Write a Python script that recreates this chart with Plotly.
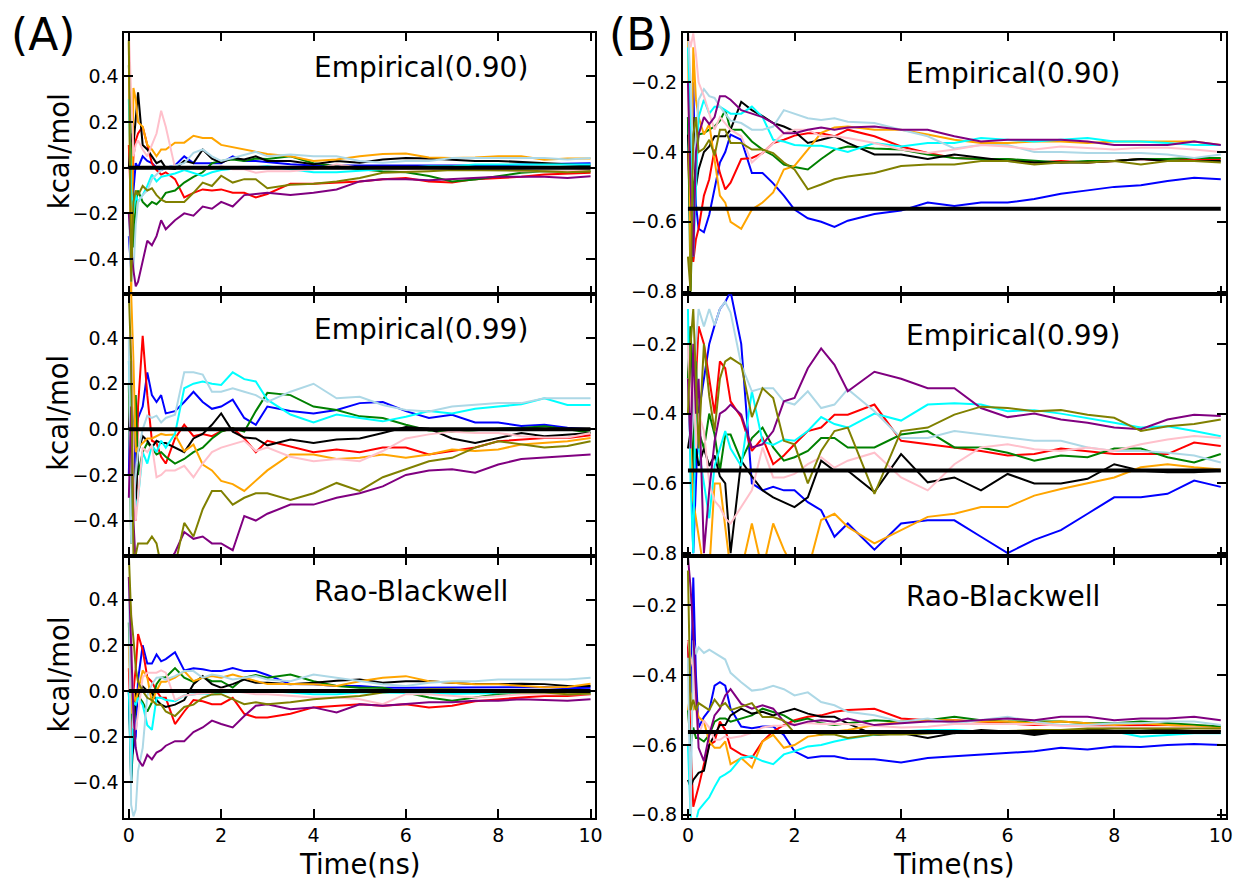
import plotly.graph_objects as go
from plotly.subplots import make_subplots

# Simulation time grid shared by every trace (ns)
TIME_NS = [0.0, 0.05, 0.1, 0.15, 0.2, 0.3, 0.4, 0.5, 0.6, 0.7, 0.8, 1.0, 1.2, 1.4, 1.6, 1.8,
           2.0, 2.25, 2.5, 2.75, 3.0, 3.5, 4.0, 4.5, 5.0, 5.5, 6.0, 6.5, 7.0, 7.5, 8.0, 8.5,
           9.0, 9.5, 10.0]

SERIES_COLORS = ["blue", "red", "green", "black", "orange", "cyan",
                 "lightblue", "pink", "purple", "olive"]

# ---- System A: running free-energy estimates (kcal/mol) ----
A_EMP90 = {
    "blue": [-0.3, -0.45, -0.1, 0.02, 0.0, 0.05, 0.03, 0.02, 0.0, -0.01, 0.0, 0.01, 0.05, 0.02, 0.02, 0.02, 0.02, 0.05, 0.03, 0.03, 0.025, 0.015, 0.01, 0.01, 0.01, 0.007, 0.01, 0.01, 0.01, 0.01, 0.01, 0.014, 0.015, 0.018, 0.02],
    "red": [0.1, -0.2, 0.05, 0.12, 0.15, 0.18, 0.1, 0.02, -0.01, -0.03, -0.02, -0.05, -0.13, -0.11, -0.095, -0.1, -0.095, -0.11, -0.11, -0.13, -0.115, -0.07, -0.07, -0.065, -0.06, -0.05, -0.045, -0.06, -0.065, -0.05, -0.045, -0.04, -0.03, -0.025, -0.022],
    "green": [0.45, 0.2, -0.35, -0.15, -0.1, -0.15, -0.17, -0.15, -0.16, -0.14, -0.11, -0.1, -0.065, -0.04, -0.02, 0.02, 0.03, 0.036, 0.03, 0.04, 0.038, 0.05, 0.02, 0.007, -0.007, -0.015, -0.02, -0.036, -0.06, -0.052, -0.036, -0.022, -0.015, -0.018, -0.015],
    "black": [0.0, 0.15, 0.1, 0.2, 0.33, 0.1, 0.08, 0.05, 0.02, 0.03, 0.0, -0.005, 0.03, 0.02, 0.08, 0.04, 0.022, 0.043, 0.036, 0.05, 0.03, 0.03, 0.015, 0.03, 0.022, 0.036, 0.043, 0.04, 0.036, 0.03, 0.03, 0.025, 0.022, 0.015, 0.01],
    "orange": [0.55, -0.6, 0.35, 0.3, 0.2, 0.18, 0.1, 0.08, 0.05, 0.08, 0.08, 0.11, 0.11, 0.14, 0.13, 0.13, 0.1, 0.09, 0.08, 0.07, 0.06, 0.05, 0.03, 0.036, 0.05, 0.06, 0.062, 0.045, 0.043, 0.045, 0.05, 0.05, 0.035, 0.04, 0.04],
    "cyan": [0.3, -0.1, -0.2, -0.12, -0.15, -0.12, -0.08, -0.03, -0.06, -0.04, -0.035, -0.025, -0.01, -0.022, -0.036, -0.02, -0.01, -0.005, 0.0, 0.005, 0.007, -0.007, -0.02, -0.02, -0.014, -0.007, 0.0, 0.007, 0.007, 0.014, 0.014, 0.014, 0.014, 0.014, 0.014],
    "lightblue": [-0.2, -0.5, -0.45, -0.25, -0.15, -0.12, -0.1, -0.05, -0.03, -0.01, 0.0, 0.01, 0.02, 0.065, 0.08, 0.05, 0.03, 0.043, 0.058, 0.07, 0.05, 0.058, 0.05, 0.05, 0.03, 0.022, 0.03, 0.03, 0.043, 0.043, 0.043, 0.043, 0.043, 0.036, 0.043],
    "pink": [0.6, 0.3, 0.05, 0.1, 0.12, 0.08, 0.05, 0.1, 0.15, 0.25, 0.18, 0.0, -0.007, 0.0, -0.007, -0.005, 0.007, -0.007, -0.007, -0.022, -0.015, -0.015, -0.007, 0.015, 0.0, -0.007, -0.007, -0.007, -0.007, 0.0, -0.007, -0.015, -0.015, -0.015, -0.007],
    "purple": [-0.2, -0.35, -0.45, -0.52, -0.5, -0.41, -0.32, -0.34, -0.3, -0.23, -0.27, -0.23, -0.2, -0.21, -0.17, -0.18, -0.15, -0.17, -0.12, -0.115, -0.11, -0.12, -0.11, -0.095, -0.06, -0.05, -0.05, -0.055, -0.05, -0.045, -0.04, -0.04, -0.04, -0.045, -0.037],
    "olive": [0.56, -0.5, -0.15, -0.1, -0.12, -0.08, -0.1, -0.09, -0.12, -0.14, -0.15, -0.15, -0.15, -0.11, -0.065, -0.08, -0.035, -0.065, -0.05, -0.05, -0.09, -0.075, -0.07, -0.06, -0.045, -0.022, -0.02, -0.015, -0.01, -0.01, -0.01, -0.012, -0.015, -0.02, -0.015],
}

A_EMP99 = {
    "blue": [-0.2, 0.3, -0.3, 0.0, 0.05, 0.1, 0.25, 0.15, 0.12, 0.15, 0.07, 0.08, 0.12, 0.165, 0.12, 0.09, 0.1, 0.13, 0.05, 0.02, 0.1, 0.08, 0.07, 0.085, 0.115, 0.12, 0.08, 0.05, 0.064, 0.03, 0.03, 0.015, 0.02, 0.007, 0.0],
    "red": [0.0, 0.1, -0.2, -0.4, 0.1, 0.41, 0.15, -0.05, -0.06, -0.12, -0.15, -0.04, 0.02, -0.03, -0.02, -0.03, -0.008, 0.005, -0.04, -0.1, -0.05, -0.075, -0.1, -0.088, -0.1, -0.08, -0.08, -0.11, -0.095, -0.08, -0.052, -0.045, -0.038, -0.038, -0.026],
    "green": [0.2, -0.5, 0.0, 0.15, -0.2, -0.1, -0.06, -0.08, -0.11, -0.1, -0.12, -0.15, -0.13, -0.1, -0.08, -0.04, -0.01, 0.005, -0.01, 0.08, 0.16, 0.15, 0.1, 0.085, 0.057, 0.05, 0.02, -0.005, -0.01, -0.002, 0.003, 0.006, 0.013, 0.0, -0.015],
    "black": [0.0, 0.2, -0.15, -0.33, -0.1, -0.03, -0.05, -0.08, -0.05, -0.06, -0.06, -0.08, -0.1, -0.04, -0.02, 0.02, 0.07, -0.01, -0.036, -0.04, -0.07, -0.045, -0.06, -0.045, -0.04, -0.016, 0.01, 0.003, -0.04, -0.06, -0.038, -0.016, -0.03, -0.022, -0.016],
    "orange": [0.6, 0.6, 0.3, -0.1, -0.08, -0.06, -0.04, -0.04, -0.03, -0.02, -0.025, -0.023, -0.096, -0.067, -0.154, -0.18, -0.226, -0.24, -0.27, -0.225, -0.18, -0.11, -0.11, -0.13, -0.125, -0.11, -0.125, -0.11, -0.088, -0.095, -0.088, -0.066, -0.06, -0.052, -0.038],
    "cyan": [0.3, 0.0, -0.2, -0.35, -0.3, -0.1, -0.15, -0.07, -0.1, -0.05, -0.08, -0.02, 0.18, 0.2, 0.21, 0.2, 0.195, 0.25, 0.22, 0.21, 0.13, 0.065, 0.03, 0.065, 0.05, 0.035, 0.055, 0.08, 0.07, 0.09, 0.1, 0.11, 0.136, 0.107, 0.107],
    "lightblue": [0.4, -0.5, -0.35, -0.2, -0.1, 0.0, 0.06, 0.05, 0.06, 0.03, 0.05, 0.064, 0.25, 0.25, 0.24, 0.165, 0.165, 0.18, 0.165, 0.15, 0.12, 0.165, 0.2, 0.136, 0.143, 0.107, 0.085, 0.078, 0.1, 0.107, 0.115, 0.115, 0.136, 0.136, 0.136],
    "pink": [0.41, 0.41, -0.2, -0.4, -0.3, -0.08, -0.1, -0.07, -0.21, -0.2, -0.18, -0.18, -0.16, -0.21, -0.15, -0.1, -0.08, -0.065, -0.05, -0.095, -0.08, -0.12, -0.14, -0.13, -0.14, -0.095, -0.04, -0.022, -0.01, -0.016, -0.016, -0.03, -0.036, -0.036, -0.016],
    "purple": [-0.3, 0.1, -0.4, -0.6, -0.6, -0.6, -0.6, -0.6, -0.6, -0.6, -0.6, -0.54, -0.45, -0.48, -0.47, -0.5, -0.5, -0.53, -0.38, -0.4, -0.37, -0.33, -0.33, -0.3, -0.28, -0.25, -0.2, -0.18, -0.175, -0.19, -0.154, -0.13, -0.125, -0.117, -0.11],
    "olive": [0.6, 0.3, -0.55, -0.55, -0.5, -0.5, -0.5, -0.47, -0.5, -0.6, -0.6, -0.6, -0.41, -0.47, -0.35, -0.27, -0.27, -0.33, -0.3, -0.28, -0.28, -0.31, -0.28, -0.235, -0.27, -0.21, -0.175, -0.14, -0.125, -0.08, -0.052, -0.067, -0.08, -0.073, -0.052],
}

A_RB = {
    "blue": [0.0, -0.3, -0.25, -0.2, 0.05, 0.2, 0.12, 0.12, 0.16, 0.13, 0.14, 0.17, 0.09, 0.1, 0.095, 0.087, 0.087, 0.1, 0.087, 0.087, 0.07, 0.03, 0.029, 0.022, 0.022, 0.014, 0.014, 0.014, 0.014, 0.014, 0.014, 0.014, 0.017, 0.012, 0.014],
    "red": [0.1, -0.2, 0.0, 0.1, 0.25, 0.18, 0.06, 0.04, 0.0, -0.03, -0.03, -0.145, -0.09, -0.04, -0.045, -0.058, -0.058, -0.03, -0.1, -0.116, -0.116, -0.1, -0.072, -0.065, -0.058, -0.065, -0.058, -0.072, -0.065, -0.045, -0.036, -0.029, -0.022, -0.022, -0.014],
    "green": [0.3, -0.1, -0.15, -0.05, -0.02, -0.05, -0.09, -0.05, 0.03, 0.058, 0.06, 0.1, 0.058, 0.04, 0.06, 0.043, 0.043, 0.015, 0.058, 0.07, 0.058, 0.072, 0.043, 0.022, 0.014, 0.014, -0.007, -0.029, -0.043, -0.029, -0.014, -0.012, -0.014, -0.014, -0.012],
    "black": [0.0, -0.4, -0.2, 0.0, -0.02, 0.02, 0.0, -0.01, -0.04, -0.06, -0.07, -0.06, -0.04, 0.03, 0.065, 0.03, 0.014, 0.03, 0.05, 0.036, 0.036, 0.03, 0.036, 0.045, 0.05, 0.036, 0.043, 0.043, 0.036, 0.03, 0.03, 0.032, 0.03, 0.022, 0.022],
    "orange": [0.2, -0.1, 0.0, -0.05, 0.0, 0.09, 0.06, -0.05, 0.0, 0.04, 0.04, 0.058, 0.087, 0.043, 0.058, 0.065, 0.058, 0.072, 0.058, 0.043, 0.03, 0.03, 0.029, 0.022, 0.043, 0.058, 0.065, 0.043, 0.036, 0.029, 0.029, 0.022, 0.016, 0.017, 0.032],
    "cyan": [0.0, -0.4, -0.05, -0.06, -0.03, -0.06, -0.15, -0.17, -0.03, -0.03, -0.04, -0.045, -0.02, -0.015, -0.01, -0.015, -0.007, -0.005, 0.0, 0.0, 0.0, -0.007, -0.014, -0.014, -0.007, -0.007, -0.01, -0.01, -0.012, -0.01, -0.008, -0.008, -0.007, -0.007, -0.007],
    "lightblue": [0.5, -0.5, -0.55, -0.52, -0.35, -0.25, -0.02, 0.03, 0.058, 0.06, 0.05, 0.065, 0.087, 0.087, 0.058, 0.072, 0.065, 0.05, 0.058, 0.065, 0.05, 0.043, 0.072, 0.058, 0.043, 0.029, 0.022, 0.036, 0.043, 0.043, 0.05, 0.05, 0.05, 0.05, 0.058],
    "pink": [0.4, 0.37, -0.16, -0.17, -0.1, 0.06, 0.08, 0.08, 0.08, 0.09, 0.08, -0.04, -0.02, -0.015, -0.01, -0.01, 0.007, 0.0, -0.007, -0.014, -0.014, -0.022, -0.029, -0.029, -0.036, -0.058, -0.014, -0.014, -0.022, -0.029, -0.022, -0.014, -0.014, -0.014, -0.014],
    "purple": [0.5, 0.2, -0.1, -0.25, -0.3, -0.33, -0.28, -0.3, -0.27, -0.26, -0.24, -0.22, -0.22, -0.18, -0.16, -0.13, -0.145, -0.16, -0.11, -0.065, -0.058, -0.08, -0.072, -0.094, -0.058, -0.065, -0.058, -0.05, -0.05, -0.043, -0.043, -0.036, -0.04, -0.043, -0.036],
    "olive": [0.6, 0.33, 0.23, 0.1, 0.04, 0.0, -0.03, -0.04, -0.06, -0.06, -0.09, -0.11, -0.07, -0.06, -0.03, -0.015, -0.014, -0.036, -0.058, -0.05, -0.058, -0.05, -0.036, -0.029, -0.022, -0.007, 0.0, 0.007, 0.007, 0.0, -0.007, -0.007, -0.007, -0.014, -0.012],
}

# ---- System B: running free-energy estimates (kcal/mol) ----
B_EMP90 = {
    "blue": [-0.3, -0.7, -0.2, -0.55, -0.62, -0.63, -0.58, -0.5, -0.43, -0.4, -0.35, -0.365, -0.46, -0.46, -0.49, -0.525, -0.565, -0.59, -0.6, -0.615, -0.597, -0.578, -0.568, -0.545, -0.555, -0.545, -0.545, -0.535, -0.52, -0.51, -0.5, -0.495, -0.483, -0.474, -0.478],
    "red": [-0.4, -0.6, -0.715, -0.65, -0.62, -0.525, -0.478, -0.393, -0.46, -0.507, -0.488, -0.42, -0.417, -0.403, -0.374, -0.365, -0.353, -0.346, -0.346, -0.355, -0.336, -0.355, -0.384, -0.403, -0.417, -0.42, -0.42, -0.43, -0.426, -0.43, -0.426, -0.42, -0.426, -0.42, -0.42],
    "green": [-0.3, -0.8, -0.5, -0.45, -0.35, -0.346, -0.336, -0.327, -0.31, -0.28, -0.336, -0.336, -0.37, -0.393, -0.41, -0.436, -0.443, -0.45, -0.42, -0.393, -0.384, -0.39, -0.393, -0.407, -0.417, -0.42, -0.42, -0.426, -0.43, -0.426, -0.426, -0.42, -0.42, -0.417, -0.417],
    "black": [-0.35, -0.45, -0.3, -0.5, -0.45, -0.4, -0.384, -0.355, -0.355, -0.355, -0.336, -0.256, -0.28, -0.297, -0.317, -0.327, -0.341, -0.374, -0.365, -0.355, -0.374, -0.407, -0.407, -0.42, -0.407, -0.417, -0.426, -0.43, -0.43, -0.43, -0.426, -0.42, -0.426, -0.426, -0.426],
    "orange": [-0.05, -0.75, -0.1, -0.25, -0.3, -0.35, -0.32, -0.43, -0.525, -0.545, -0.6, -0.62, -0.565, -0.545, -0.516, -0.45, -0.44, -0.393, -0.345, -0.33, -0.327, -0.336, -0.336, -0.35, -0.365, -0.374, -0.374, -0.37, -0.37, -0.374, -0.37, -0.37, -0.37, -0.37, -0.38],
    "cyan": [-0.1, -0.3, -0.7, -0.5, -0.3, -0.25, -0.29, -0.27, -0.27, -0.28, -0.29, -0.29, -0.27, -0.3, -0.365, -0.37, -0.38, -0.382, -0.382, -0.39, -0.4, -0.374, -0.384, -0.374, -0.374, -0.36, -0.365, -0.37, -0.365, -0.36, -0.37, -0.37, -0.374, -0.38, -0.38],
    "lightblue": [-0.05, -0.2, -0.45, -0.35, -0.25, -0.22, -0.24, -0.245, -0.27, -0.29, -0.31, -0.317, -0.336, -0.336, -0.327, -0.28, -0.29, -0.303, -0.308, -0.303, -0.313, -0.317, -0.336, -0.355, -0.39, -0.38, -0.38, -0.4, -0.4, -0.403, -0.403, -0.403, -0.407, -0.417, -0.407],
    "pink": [-0.06, -0.1, -0.06, -0.12, -0.2, -0.24, -0.29, -0.336, -0.3, -0.317, -0.336, -0.355, -0.43, -0.403, -0.374, -0.346, -0.336, -0.336, -0.355, -0.355, -0.36, -0.374, -0.393, -0.403, -0.393, -0.38, -0.384, -0.393, -0.384, -0.388, -0.393, -0.388, -0.388, -0.393, -0.4],
    "purple": [-0.2, -0.5, -0.7, -0.4, -0.35, -0.3, -0.32, -0.3, -0.24, -0.24, -0.25, -0.28, -0.29, -0.3, -0.317, -0.346, -0.346, -0.336, -0.33, -0.336, -0.33, -0.327, -0.336, -0.336, -0.355, -0.37, -0.365, -0.365, -0.365, -0.37, -0.38, -0.38, -0.38, -0.37, -0.38],
    "olive": [-0.7, -0.8, -0.35, -0.3, -0.4, -0.39, -0.365, -0.41, -0.336, -0.336, -0.374, -0.374, -0.393, -0.393, -0.403, -0.43, -0.45, -0.507, -0.493, -0.478, -0.47, -0.46, -0.44, -0.436, -0.436, -0.426, -0.426, -0.436, -0.43, -0.43, -0.426, -0.436, -0.426, -0.426, -0.43],
}

B_EMP99 = {
    "blue": [-0.3, -0.5, -0.8, -0.6, -0.4, -0.3, -0.2, -0.147, -0.1, -0.08, -0.05, -0.2, -0.6, -0.62, -0.61, -0.62, -0.62, -0.654, -0.677, -0.753, -0.715, -0.79, -0.715, -0.706, -0.706, -0.753, -0.8, -0.762, -0.734, -0.687, -0.64, -0.64, -0.63, -0.592, -0.61],
    "red": [-0.3, -0.15, -0.65, -0.3, -0.15, -0.2, -0.3, -0.4, -0.25, -0.27, -0.365, -0.41, -0.507, -0.47, -0.545, -0.52, -0.488, -0.45, -0.44, -0.403, -0.403, -0.374, -0.478, -0.488, -0.497, -0.507, -0.52, -0.516, -0.5, -0.507, -0.516, -0.516, -0.516, -0.483, -0.493],
    "green": [-0.3, -0.15, -0.6, -0.25, -0.45, -0.5, -0.4, -0.46, -0.564, -0.46, -0.46, -0.535, -0.47, -0.44, -0.497, -0.535, -0.525, -0.507, -0.47, -0.47, -0.497, -0.497, -0.46, -0.45, -0.497, -0.497, -0.512, -0.535, -0.52, -0.525, -0.5, -0.5, -0.525, -0.54, -0.516],
    "black": [-0.5, -0.45, -0.6, -0.5, -0.55, -0.5, -0.55, -0.52, -0.58, -0.6, -0.8, -0.535, -0.58, -0.62, -0.64, -0.654, -0.668, -0.64, -0.535, -0.564, -0.564, -0.625, -0.516, -0.597, -0.583, -0.62, -0.573, -0.6, -0.6, -0.587, -0.545, -0.564, -0.568, -0.568, -0.564],
    "orange": [-0.3, -0.5, -0.65, -0.7, -0.75, -0.85, -0.85, -0.6, -0.6, -0.715, -0.85, -0.85, -0.715, -0.85, -0.715, -0.79, -0.85, -0.85, -0.705, -0.687, -0.725, -0.772, -0.734, -0.696, -0.687, -0.668, -0.668, -0.635, -0.616, -0.6, -0.583, -0.554, -0.545, -0.554, -0.56],
    "cyan": [-0.1, -0.6, -0.8, -0.3, -0.5, -0.6, -0.7, -0.55, -0.5, -0.45, -0.5, -0.55, -0.336, -0.48, -0.49, -0.474, -0.478, -0.45, -0.41, -0.43, -0.44, -0.4, -0.42, -0.374, -0.37, -0.374, -0.393, -0.39, -0.4, -0.412, -0.426, -0.44, -0.436, -0.45, -0.465],
    "lightblue": [-0.3, -0.5, -0.4, -0.2, -0.1, -0.15, -0.1, -0.147, -0.1, -0.08, -0.11, -0.26, -0.336, -0.327, -0.327, -0.365, -0.374, -0.336, -0.384, -0.374, -0.33, -0.393, -0.47, -0.47, -0.45, -0.46, -0.47, -0.478, -0.478, -0.497, -0.507, -0.507, -0.512, -0.52, -0.54],
    "pink": [-0.2, -0.4, -0.25, -0.5, -0.4, -0.45, -0.6, -0.65, -0.668, -0.7, -0.715, -0.668, -0.62, -0.497, -0.583, -0.583, -0.573, -0.545, -0.525, -0.555, -0.535, -0.512, -0.583, -0.62, -0.545, -0.497, -0.488, -0.502, -0.507, -0.497, -0.507, -0.488, -0.474, -0.464, -0.47],
    "purple": [-0.3, -0.5, -0.2, -0.4, -0.3, -0.8, -0.62, -0.48, -0.4, -0.39, -0.374, -0.403, -0.497, -0.488, -0.45, -0.365, -0.355, -0.27, -0.213, -0.26, -0.336, -0.28, -0.3, -0.327, -0.327, -0.384, -0.41, -0.4, -0.417, -0.426, -0.44, -0.445, -0.417, -0.403, -0.407],
    "olive": [-0.4, -0.2, -0.1, -0.3, -0.5, -0.2, -0.35, -0.45, -0.3, -0.25, -0.24, -0.26, -0.41, -0.327, -0.355, -0.478, -0.488, -0.6, -0.507, -0.45, -0.44, -0.63, -0.45, -0.44, -0.403, -0.38, -0.384, -0.393, -0.39, -0.403, -0.412, -0.45, -0.436, -0.43, -0.417],
}

B_RB = {
    "blue": [-0.3, -0.5, -0.12, -0.4, -0.55, -0.52, -0.5, -0.43, -0.42, -0.43, -0.496, -0.547, -0.552, -0.547, -0.547, -0.571, -0.618, -0.637, -0.632, -0.632, -0.64, -0.641, -0.65, -0.637, -0.632, -0.627, -0.623, -0.618, -0.608, -0.613, -0.604, -0.606, -0.6, -0.597, -0.6],
    "red": [-0.3, -0.6, -0.777, -0.75, -0.72, -0.655, -0.6, -0.59, -0.533, -0.557, -0.608, -0.627, -0.637, -0.59, -0.561, -0.543, -0.529, -0.519, -0.515, -0.505, -0.5, -0.496, -0.524, -0.529, -0.529, -0.533, -0.538, -0.543, -0.543, -0.543, -0.543, -0.543, -0.543, -0.547, -0.552],
    "green": [-0.5, -0.6, -0.55, -0.58, -0.58, -0.59, -0.571, -0.533, -0.524, -0.524, -0.533, -0.524, -0.515, -0.496, -0.505, -0.515, -0.533, -0.524, -0.538, -0.543, -0.538, -0.529, -0.533, -0.529, -0.519, -0.529, -0.533, -0.533, -0.533, -0.538, -0.538, -0.533, -0.538, -0.543, -0.547],
    "black": [-0.7, -0.72, -0.7, -0.69, -0.68, -0.674, -0.6, -0.571, -0.543, -0.543, -0.515, -0.496, -0.51, -0.505, -0.515, -0.505, -0.496, -0.51, -0.519, -0.519, -0.538, -0.571, -0.566, -0.58, -0.566, -0.557, -0.561, -0.571, -0.561, -0.557, -0.552, -0.552, -0.557, -0.56, -0.56],
    "orange": [-0.5, -0.45, -0.5, -0.48, -0.52, -0.533, -0.59, -0.608, -0.608, -0.59, -0.655, -0.637, -0.665, -0.59, -0.571, -0.608, -0.6, -0.576, -0.571, -0.561, -0.557, -0.543, -0.533, -0.529, -0.529, -0.533, -0.533, -0.538, -0.533, -0.538, -0.543, -0.538, -0.543, -0.547, -0.552],
    "cyan": [-0.6, -0.8, -0.85, -0.82, -0.787, -0.768, -0.75, -0.72, -0.693, -0.684, -0.674, -0.637, -0.632, -0.646, -0.655, -0.627, -0.618, -0.604, -0.6, -0.59, -0.582, -0.571, -0.561, -0.557, -0.557, -0.561, -0.561, -0.561, -0.561, -0.561, -0.561, -0.576, -0.571, -0.566, -0.566],
    "lightblue": [-0.35, -0.8, -0.3, -0.34, -0.32, -0.336, -0.327, -0.336, -0.346, -0.355, -0.393, -0.42, -0.444, -0.44, -0.43, -0.44, -0.458, -0.449, -0.477, -0.486, -0.505, -0.515, -0.533, -0.524, -0.538, -0.529, -0.519, -0.533, -0.543, -0.543, -0.538, -0.538, -0.533, -0.533, -0.543],
    "pink": [-0.3, -0.35, -0.38, -0.5, -0.57, -0.53, -0.55, -0.585, -0.585, -0.575, -0.58, -0.575, -0.565, -0.55, -0.545, -0.545, -0.54, -0.537, -0.54, -0.54, -0.54, -0.545, -0.55, -0.548, -0.54, -0.54, -0.54, -0.54, -0.545, -0.547, -0.55, -0.55, -0.55, -0.55, -0.555],
    "purple": [-0.06, -0.15, -0.28, -0.45, -0.608, -0.646, -0.571, -0.515, -0.496, -0.458, -0.44, -0.482, -0.496, -0.486, -0.496, -0.533, -0.543, -0.533, -0.529, -0.533, -0.524, -0.543, -0.538, -0.533, -0.533, -0.529, -0.524, -0.529, -0.519, -0.519, -0.529, -0.524, -0.524, -0.519, -0.529],
    "olive": [-0.1, -0.5, -0.47, -0.5, -0.48, -0.49, -0.5, -0.47, -0.49, -0.48, -0.5, -0.49, -0.48, -0.52, -0.52, -0.53, -0.565, -0.56, -0.57, -0.57, -0.58, -0.57, -0.57, -0.567, -0.562, -0.56, -0.56, -0.557, -0.557, -0.553, -0.553, -0.553, -0.553, -0.553, -0.553],
}

# Reference free energies drawn as thick horizontal lines
REFERENCE_A = 0.0
REFERENCE_B = -0.563

ROW_TITLES = ["Empirical(0.90)", "Empirical(0.99)", "Rao-Blackwell"]
PANEL_LETTERS = ["(A)", "(B)"]
A_YTICKS = [-0.4, -0.2, 0.0, 0.2, 0.4]
B_YTICKS = [-0.8, -0.6, -0.4, -0.2]
X_TICKS = [0, 2, 4, 6, 8, 10]
Y_LABEL = "kcal/mol"
X_LABEL = "Time(ns)"

for _name, _panel in [("A_EMP90", A_EMP90), ("A_EMP99", A_EMP99), ("A_RB", A_RB),
                      ("B_EMP90", B_EMP90), ("B_EMP99", B_EMP99), ("B_RB", B_RB)]:
    for _c, _vals in _panel.items():
        assert len(_vals) == len(TIME_NS), (_name, _c, len(_vals))

W, H = 1250, 886
FONT = "DejaVu Sans"
TICK_SIZE = 19
LABEL_SIZE = 27.5
TITLE_SIZE = 28

COL_PX = [(124, 598), (686, 1233)]
ROW_PX = [(33, 297), (297, 561), (561, 825)]
Y_RANGES = [[-0.555, 0.592], [-0.808, -0.058]]
Y_TICKS = [A_YTICKS, B_YTICKS]
REFS = [REFERENCE_A, REFERENCE_B]
TITLE_Y = [0.4, -0.2]
TITLE_XSHIFT = [-2, 3]
PANELS = [[A_EMP90, B_EMP90], [A_EMP99, B_EMP99], [A_RB, B_RB]]


def fmt_tick(v):
    s = f"{abs(v):.1f}"
    return "\u2212" + s if v < 0 else s


fig = make_subplots(rows=3, cols=2, horizontal_spacing=0.05, vertical_spacing=0.0)

for r in range(3):
    for c in range(2):
        data = PANELS[r][c]
        for color in SERIES_COLORS:
            fig.add_trace(go.Scatter(x=TIME_NS, y=data[color], mode="lines",
                                     line=dict(color=color, width=2),
                                     showlegend=False, hoverinfo="skip"),
                          row=r + 1, col=c + 1)
        fig.add_trace(go.Scatter(x=[TIME_NS[0], TIME_NS[-1]], y=[REFS[c], REFS[c]],
                                 mode="lines", line=dict(color="black", width=4),
                                 showlegend=False, hoverinfo="skip"),
                      row=r + 1, col=c + 1)

        x0, x1 = COL_PX[c]
        t0, t1 = ROW_PX[r]
        axis_common = dict(ticks="inside", ticklen=9, tickwidth=1.5, tickcolor="black",
                           showline=True, linecolor="black", linewidth=1.5, mirror="ticks",
                           showgrid=False, zeroline=False,
                           tickfont=dict(family=FONT, size=TICK_SIZE, color="black"))
        fig.update_xaxes(domain=[x0 / W, x1 / W], range=[-0.1, 10.1],
                         tickvals=X_TICKS, ticktext=[str(v) for v in X_TICKS],
                         showticklabels=(r == 2),
                         row=r + 1, col=c + 1, **axis_common)
        fig.update_yaxes(domain=[1 - t1 / H, 1 - t0 / H], range=Y_RANGES[c],
                         tickvals=Y_TICKS[c], ticktext=[fmt_tick(v) for v in Y_TICKS[c]],
                         row=r + 1, col=c + 1, **axis_common)

        fig.add_annotation(x=4.0, y=TITLE_Y[c], text=ROW_TITLES[r], showarrow=False,
                           xanchor="left", yanchor="bottom", yshift=-10,
                           xshift=TITLE_XSHIFT[c],
                           font=dict(family=FONT, size=TITLE_SIZE, color="black"),
                           row=r + 1, col=c + 1)

        # y-axis label on the left column only
        if c == 0:
            fig.add_annotation(x=58 / W, y=1 - ((t0 + t1) / 2 - 12) / H,
                               xref="paper", yref="paper", text=Y_LABEL, textangle=-90,
                               showarrow=False, xanchor="center", yanchor="middle",
                               font=dict(family=FONT, size=LABEL_SIZE, color="black"))
        # x-axis label under the bottom row
        if r == 2:
            fig.add_annotation(x=(x0 + x1) / 2 / W, y=1 - 872 / H,
                               xref="paper", yref="paper", text=X_LABEL,
                               showarrow=False, xanchor="center", yanchor="middle",
                               font=dict(family=FONT, size=LABEL_SIZE, color="black"))

for letter, px in zip(PANEL_LETTERS, [8, 610]):
    fig.add_annotation(x=px / W, y=1 - 35 / H, xref="paper", yref="paper", text=letter,
                       showarrow=False, xanchor="left", yanchor="middle",
                       font=dict(family=FONT, size=44, color="black"))

fig.update_layout(width=W, height=H, autosize=False,
                  margin=dict(l=0, r=0, t=0, b=0),
                  paper_bgcolor="white", plot_bgcolor="white",
                  font=dict(family=FONT, color="black"))

fig.write_html("out.html")
